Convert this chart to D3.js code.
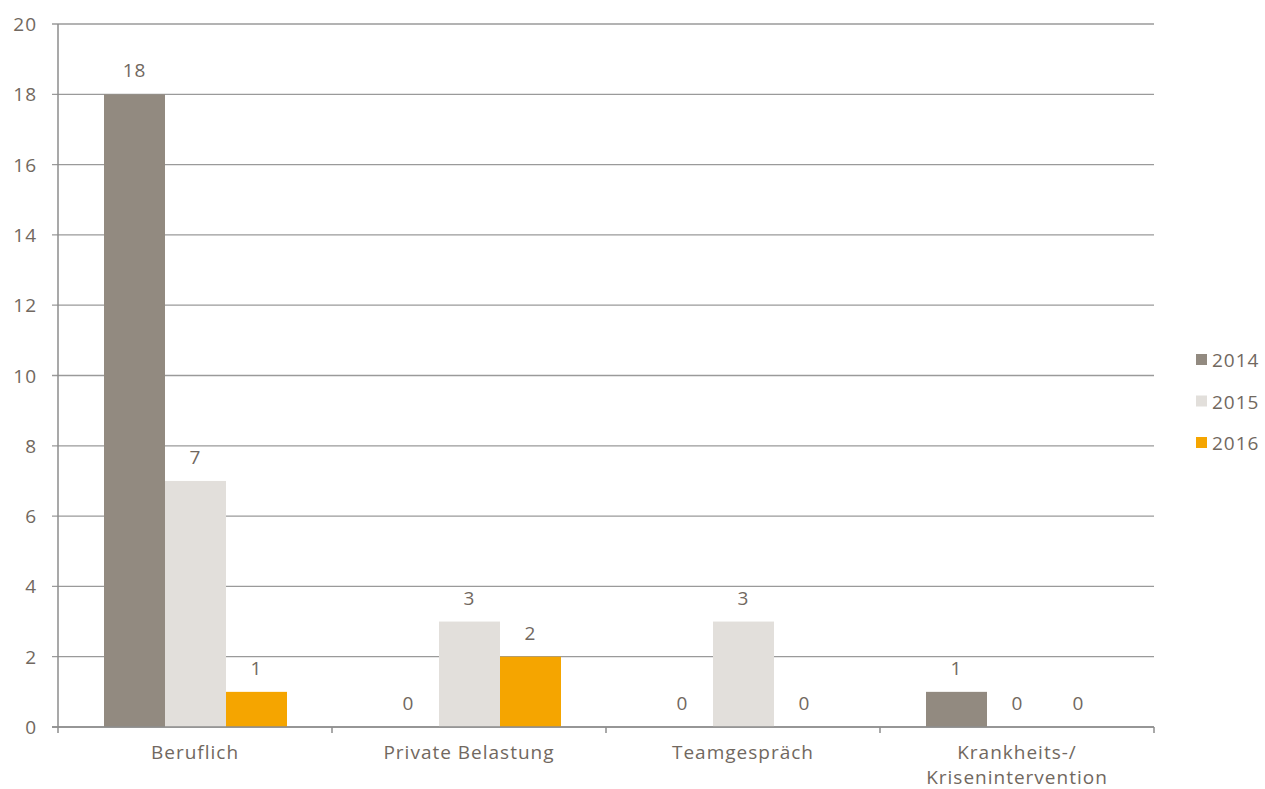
<!DOCTYPE html>
<html>
<head>
<meta charset="utf-8">
<script src="https://cdn.jsdelivr.net/npm/d3@7"></script>
<style>
	body { margin: 0; background: #fff; }
	text { font-family: 'Open Sans', 'Noto Sans', sans-serif; font-weight: 400; fill: #716860; letter-spacing: 1px; }
</style>
</head>
<body>
<svg id="chart" width="1265" height="789"></svg>
<script>
'use strict';

var categories = ['Beruflich', 'Private Belastung', 'Teamgespräch', 'Krankheits-/\nKrisenintervention'];
var years = ['2014', '2015', '2016'];
var values2014 = [18, 0, 0, 1];
var values2015 = [7, 3, 3, 0];
var values2016 = [1, 2, 0, 0];
var yTicks = [0, 2, 4, 6, 8, 10, 12, 14, 16, 18, 20];
var colors = ['#928a80', '#e2dfdb', '#f5a500'];

(function() {
	var series = [values2014, values2015, values2016];
	var left = 58, right = 1154, top = 24, bottom = 727;
	var svg = d3.select('svg#chart');

	var x0 = d3.scaleBand().domain(categories).range([left, right]).paddingInner(0).paddingOuter(0);
	var x1 = d3.scaleBand().domain(years).range([46, 46 + 183]);
	var y = d3.scaleLinear().domain([0, 20]).range([bottom, top]);

	// grid lines
	svg.append('g').selectAll('line')
		.data(yTicks)
		.enter()
		.append('line')
		.attr('x1', left - 6)
		.attr('x2', right)
		.attr('y1', function(d) { return y(d); })
		.attr('y2', function(d) { return y(d); })
		.style('stroke', '#9a9a9a')
		.style('stroke-width', 1.3);

	svg.append('g').selectAll('text')
		.data(yTicks)
		.enter()
		.append('text')
		.attr('x', 37)
		.attr('y', function(d) { return y(d) + 7; })
		.attr('text-anchor', 'end')
		.style('font-size', '19px')
		.text(function(d) { return d; });

	// bars
	var groups = svg.append('g').selectAll('g')
		.data(categories)
		.enter()
		.append('g')
		.attr('transform', function(d) { return 'translate(' + x0(d) + ',0)'; });

	groups.each(function(cat, ci) {
		var g = d3.select(this);
		years.forEach(function(yr, si) {
			var v = series[si][ci];
			if (v > 0) {
				g.append('rect')
					.attr('x', x1(yr))
					.attr('y', y(v))
					.attr('width', x1.bandwidth())
					.attr('height', y(0) - y(v))
					.style('fill', colors[si]);
			}
			g.append('text')
				.attr('x', x1(yr) + x1.bandwidth() / 2)
				.attr('y', y(v) - 17)
				.attr('text-anchor', 'middle')
				.style('font-size', '19px')
				.text(v);
		});
	});

	// axes
	svg.append('line')
		.attr('x1', left).attr('x2', left)
		.attr('y1', top).attr('y2', bottom)
		.style('stroke', '#8c8c8c').style('stroke-width', 1.5);
	svg.append('line')
		.attr('x1', left - 6).attr('x2', right)
		.attr('y1', bottom).attr('y2', bottom)
		.style('stroke', '#8c8c8c').style('stroke-width', 1.5);

	var catTicks = categories.map(function(c) { return x0(c); }).concat([right]);
	svg.append('g').selectAll('line')
		.data(catTicks)
		.enter()
		.append('line')
		.attr('x1', function(d) { return d; })
		.attr('x2', function(d) { return d; })
		.attr('y1', bottom)
		.attr('y2', bottom + 6)
		.style('stroke', '#8c8c8c').style('stroke-width', 1.5);

	svg.append('g').selectAll('text')
		.data(categories)
		.enter()
		.append('text')
		.attr('text-anchor', 'middle')
		.attr('x', function(d) { return x0(d) + x0.bandwidth() / 2; })
		.attr('y', 759)
		.style('font-size', '19px')
		.each(function(d) {
			var t = d3.select(this);
			d.split('\n').forEach(function(line, i) {
				t.append('tspan')
					.attr('x', x0(d) + x0.bandwidth() / 2)
					.attr('dy', i === 0 ? 0 : 25)
					.text(line);
			});
		});

	// legend
	var legend = svg.append('g').selectAll('g')
		.data(years)
		.enter()
		.append('g')
		.attr('transform', function(d, i) { return 'translate(1196,' + (360 + i * 41.5) + ')'; });
	legend.append('rect')
		.attr('x', 0).attr('y', -6)
		.attr('width', 11).attr('height', 11)
		.style('fill', function(d, i) { return colors[i]; });
	legend.append('text')
		.attr('x', 16).attr('y', 7)
		.style('font-size', '19px')
		.text(function(d) { return d; });
})();
</script>
</body>
</html>
